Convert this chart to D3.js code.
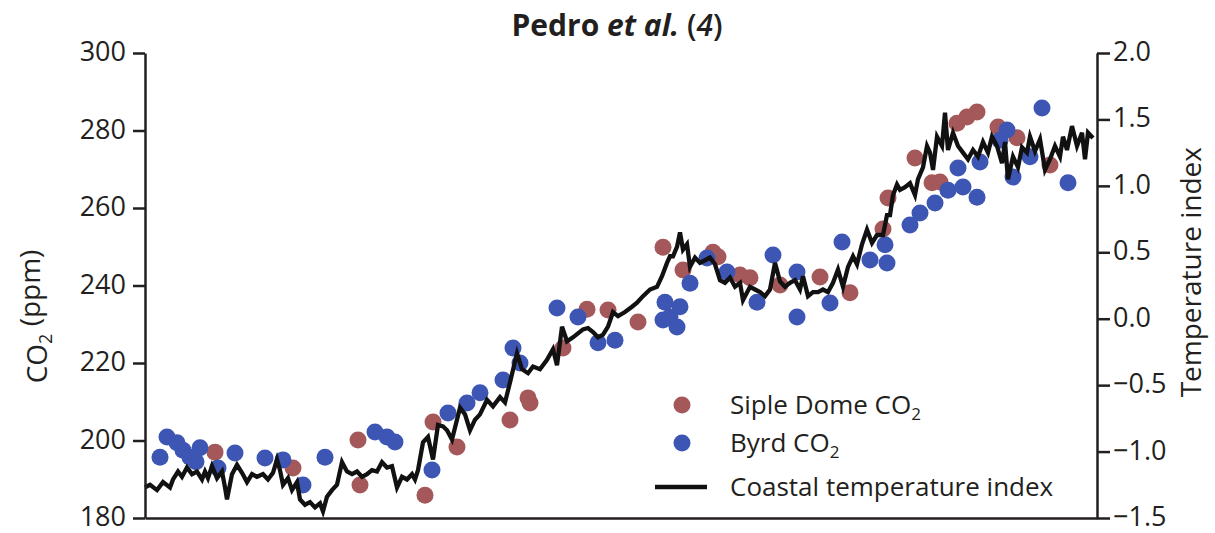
<!DOCTYPE html>
<html lang="en">
<head>
<meta charset="UTF-8">
<title>Pedro et al. (4)</title>
<script src="https://d3js.org/d3.v7.min.js"></script>
<style>
    body { margin: 0; background: #fff; }
    svg text { font-family: "Open Sans", sans-serif; fill: #231f20; }
    .axis path, .axis line { stroke: #231f20; stroke-width: 2.5; }
    .axis text { font-size: 27px; }
</style>
</head>
<body>
<div id="chart"></div>
<script>
    // x is an unlabelled time position (0 = left axis)
    const sipleX   = [7.0, 14.8, 21.3, 21.5, 28.0, 28.8, 31.2, 36.5, 38.3, 38.5, 41.8, 44.2, 46.3, 49.3, 51.8, 53.8, 56.8, 57.3, 59.5, 60.5, 63.5, 67.5, 70.5, 73.8, 74.3, 77.0, 78.7, 79.5, 81.2, 82.2, 83.2, 85.3, 87.2, 90.5];
    const sipleCO2 = [197.0, 192.9, 200.1, 188.5, 185.9, 204.8, 198.3, 205.3, 211.0, 209.7, 223.9, 233.9, 233.7, 230.6, 249.9, 244.0, 248.6, 247.4, 242.7, 242.0, 240.1, 242.2, 238.1, 254.6, 262.6, 272.9, 266.5, 266.7, 281.9, 283.5, 284.8, 280.9, 278.1, 271.1];

    const byrdX   = [1.5, 2.2, 3.2, 3.8, 4.5, 5.1, 5.5, 7.3, 9.0, 12.0, 13.8, 15.8, 18.0, 23.0, 24.2, 25.0, 28.7, 30.3, 32.2, 33.5, 35.8, 36.8, 37.5, 41.2, 43.3, 45.3, 47.0, 52.0, 52.5, 51.8, 53.5, 53.2, 54.5, 56.2, 58.2, 61.2, 62.8, 65.2, 65.2, 68.5, 69.7, 72.5, 74.0, 74.2, 76.5, 77.5, 79.0, 80.3, 81.3, 81.8, 83.2, 83.5, 85.5, 86.2, 86.8, 88.5, 89.7, 92.3];
    const byrdCO2 = [195.7, 200.9, 199.4, 197.5, 195.7, 194.5, 198.1, 192.9, 196.8, 195.5, 195.0, 188.5, 195.7, 202.2, 200.9, 199.6, 192.4, 207.1, 209.7, 212.3, 215.6, 223.9, 220.0, 234.2, 231.9, 225.2, 225.9, 235.7, 231.9, 231.1, 234.5, 229.3, 240.6, 247.1, 243.5, 235.7, 247.9, 243.5, 231.9, 235.5, 251.2, 246.6, 250.5, 245.8, 255.6, 258.7, 261.3, 264.6, 270.3, 265.4, 262.8, 271.9, 277.5, 280.1, 268.0, 273.2, 285.8, 266.5];

    const tempX = [0.0, 0.5, 1.2, 1.8, 2.5, 2.8, 3.3, 3.7, 4.2, 4.7, 5.2, 5.7, 6.0, 6.3, 6.7, 7.2, 7.7, 8.0, 8.2, 8.7,
        9.2, 9.7, 10.2, 10.7, 11.2, 11.8, 12.3, 12.8, 13.2, 13.5, 13.8, 14.3, 14.7, 15.2, 15.5, 16.0, 16.5, 17.0, 17.5, 17.8,
        18.2, 18.7, 19.2, 19.7, 20.2, 20.7, 21.2, 21.7, 22.2, 22.7, 23.2, 23.7, 24.2, 24.7, 25.2, 25.7, 26.2, 26.7, 27.0, 27.3,
        27.8, 28.3, 28.8, 29.3, 29.8, 30.2, 30.7, 31.5, 32.0, 32.5, 33.0, 33.5, 34.2, 34.8, 35.5, 36.0, 36.5, 37.2, 37.7, 38.3,
        38.8, 39.5, 40.2, 40.8, 41.2, 41.7, 42.2, 42.8, 43.3, 43.8, 44.3, 44.8, 45.3, 45.8, 46.3, 46.8, 47.3, 48.0, 48.7, 49.2,
        49.8, 50.5, 51.2, 51.7, 52.2, 52.5, 52.8, 53.2, 53.5, 53.8, 54.2, 54.5, 55.0, 55.5, 56.0, 56.5, 57.0, 57.5, 58.0, 58.5,
        59.0, 59.5, 59.8, 60.5, 61.0, 61.5, 62.0, 62.5, 63.0, 63.5, 64.0, 64.5, 65.0, 65.5, 65.8, 66.3, 66.8, 67.3, 67.8, 68.3,
        68.8, 69.3, 69.8, 70.3, 70.8, 71.2, 71.7, 72.2, 72.7, 73.2, 73.8, 74.2, 74.5, 74.8, 75.2, 75.5, 76.0, 76.5, 77.0, 77.3,
        77.8, 78.2, 78.5, 78.8, 79.2, 79.7, 80.0, 80.3, 80.8, 81.3, 81.8, 82.3, 82.8, 83.3, 83.8, 84.3, 84.7, 85.2, 85.7, 86.0,
        86.3, 86.8, 87.3, 87.7, 88.2, 88.5, 89.0, 89.5, 90.0, 90.5, 91.0, 91.5, 91.8, 92.2, 92.7, 93.2, 93.7, 94.0, 94.3, 94.8];
    const tempIdx = [-1.27, -1.25, -1.29, -1.23, -1.27, -1.21, -1.15, -1.19, -1.12, -1.17, -1.15, -1.21, -1.15, -1.20, -1.11, -1.20, -1.15, -1.27, -1.36, -1.17,
        -1.10, -1.16, -1.23, -1.17, -1.19, -1.17, -1.21, -1.16, -1.06, -1.14, -1.25, -1.20, -1.29, -1.23, -1.36, -1.40, -1.38, -1.42, -1.39, -1.45,
        -1.34, -1.29, -1.25, -1.08, -1.15, -1.17, -1.15, -1.19, -1.17, -1.14, -1.15, -1.08, -1.12, -1.11, -1.27, -1.19, -1.21, -1.17, -1.21, -1.14,
        -0.93, -0.89, -1.06, -0.80, -0.81, -0.84, -0.91, -0.67, -0.72, -0.84, -0.76, -0.72, -0.61, -0.66, -0.59, -0.63, -0.48, -0.26, -0.38, -0.41,
        -0.36, -0.38, -0.31, -0.23, -0.35, -0.06, -0.17, -0.14, -0.11, -0.08, -0.07, -0.10, -0.14, -0.12, -0.06, 0.05, 0.02, 0.05, 0.09, 0.12,
        0.17, 0.22, 0.24, 0.32, 0.42, 0.47, 0.47, 0.54, 0.65, 0.52, 0.56, 0.39, 0.46, 0.42, 0.44, 0.46, 0.41, 0.29, 0.27, 0.31,
        0.24, 0.27, 0.14, 0.24, 0.22, 0.20, 0.17, 0.22, 0.42, 0.28, 0.24, 0.27, 0.29, 0.22, 0.32, 0.17, 0.20, 0.20, 0.22, 0.20,
        0.27, 0.37, 0.24, 0.39, 0.47, 0.41, 0.56, 0.67, 0.57, 0.63, 0.63, 0.78, 0.78, 0.93, 1.01, 0.97, 0.99, 1.02, 0.93, 1.05,
        1.14, 1.30, 1.25, 1.12, 1.37, 1.30, 1.55, 1.27, 1.40, 1.30, 1.25, 1.20, 1.27, 1.22, 1.33, 1.25, 1.37, 1.30, 1.17, 1.33,
        1.05, 1.22, 1.14, 1.29, 1.25, 1.37, 1.26, 1.35, 1.12, 1.20, 1.30, 1.22, 1.37, 1.27, 1.45, 1.30, 1.40, 1.20, 1.40, 1.36];

    const co2Ticks = [180, 200, 220, 240, 260, 280, 300];
    const tempTicks = [-1.5, -1.0, -0.5, 0.0, 0.5, 1.0, 1.5, 2.0];

    const siple = sipleX.map((x, i) => ({ x: x, v: sipleCO2[i] }));
    const byrd = byrdX.map((x, i) => ({ x: x, v: byrdCO2[i] }));
    const temp = tempX.map((x, i) => ({ x: x, v: tempIdx[i] }));

    const W = 1215, H = 533;
    const margin = { top: 53, right: 118, bottom: 15, left: 145 };
    const width = W - margin.left - margin.right;
    const height = H - margin.top - margin.bottom;

    const red = "#a5585a";
    const blue = "#3d56b4";

    const svg = d3.select("#chart").append("svg")
        .attr("width", W)
        .attr("height", H);

    const g = svg.append("g")
        .attr("transform", `translate(${margin.left},${margin.top})`);

    const x = d3.scaleLinear().domain([0, 95.2]).range([0, width]);
    const yL = d3.scaleLinear().domain([180, 300]).range([height, 0]);
    const yR = d3.scaleLinear().domain([-1.5, 2.0]).range([height, 0]);

    // dots
    g.append("g").selectAll("circle")
        .data(siple)
        .enter().append("circle")
        .attr("cx", d => x(d.x))
        .attr("cy", d => yL(d.v))
        .attr("r", 8.5)
        .attr("fill", red);

    g.append("g").selectAll("circle")
        .data(byrd)
        .enter().append("circle")
        .attr("cx", d => x(d.x))
        .attr("cy", d => yL(d.v))
        .attr("r", 8.5)
        .attr("fill", blue);

    // temperature line
    const line = d3.line()
        .x(d => x(d.x))
        .y(d => yR(d.v));

    g.append("path")
        .datum(temp)
        .attr("d", line)
        .attr("fill", "none")
        .attr("stroke", "#111")
        .attr("stroke-width", 4.3)
        .attr("stroke-linejoin", "miter");

    // axes
    g.append("g")
        .attr("class", "axis")
        .call(d3.axisLeft(yL).tickValues(co2Ticks).tickSize(12).tickSizeOuter(0).tickPadding(7).tickFormat(d3.format("d")));

    g.append("g")
        .attr("class", "axis")
        .attr("transform", `translate(${width},0)`)
        .call(d3.axisRight(yR).tickValues(tempTicks).tickSize(13).tickSizeOuter(0).tickPadding(3).tickFormat(d3.format(".1f")));

    g.append("g")
        .attr("class", "axis")
        .attr("transform", `translate(0,${height})`)
        .call(d3.axisBottom(x).tickValues([]).tickSizeOuter(0));

    g.selectAll(".axis text").attr("dy", "0.28em");

    // title
    const title = svg.append("text")
        .attr("x", 617)
        .attr("y", 36)
        .attr("text-anchor", "middle")
        .style("font-size", "30px")
        .style("font-weight", "bold");
    title.append("tspan").text("Pedro ");
    title.append("tspan").style("font-style", "italic").text("et al.");
    title.append("tspan").style("font-weight", "600").text(" (");
    title.append("tspan").style("font-style", "italic").style("font-weight", "600").text("4");
    title.append("tspan").style("font-weight", "600").text(")");

    // axis titles
    const yl = svg.append("text")
        .attr("transform", `translate(47,${margin.top + yL(232)}) rotate(-90)`)
        .attr("text-anchor", "middle")
        .style("font-size", "28px");
    yl.append("tspan").text("CO");
    yl.append("tspan").attr("dy", "0.3em").style("font-size", "18px").text("2");
    yl.append("tspan").attr("dy", "-0.45em").text(" (ppm)");

    svg.append("text")
        .attr("transform", `translate(1201,${margin.top + yR(0.35)}) rotate(-90)`)
        .attr("text-anchor", "middle")
        .style("font-size", "28px")
        .text("Temperature index");

    // legend
    const legend = svg.append("g").attr("transform", "translate(682,405)");
    const items = [
        { type: "dot", color: red, label: "Siple Dome CO", sub: "2", dy: 0 },
        { type: "dot", color: blue, label: "Byrd CO", sub: "2", dy: 38 },
        { type: "line", color: "#111", label: "Coastal temperature index", sub: "", dy: 82 }
    ];
    items.forEach(it => {
        const row = legend.append("g").attr("transform", `translate(0,${it.dy})`);
        if (it.type === "dot") {
            row.append("circle").attr("r", 8.5).attr("fill", it.color);
        } else {
            row.append("line").attr("x1", -27).attr("x2", 25)
                .attr("stroke", it.color).attr("stroke-width", 4.3);
        }
        const t = row.append("text")
            .attr("x", 48)
            .attr("y", 9)
            .style("font-size", "26px");
        t.append("tspan").text(it.label);
        if (it.sub) t.append("tspan").attr("dy", "0.35em").style("font-size", "17px").text(it.sub);
    });
</script>
</body>
</html>
